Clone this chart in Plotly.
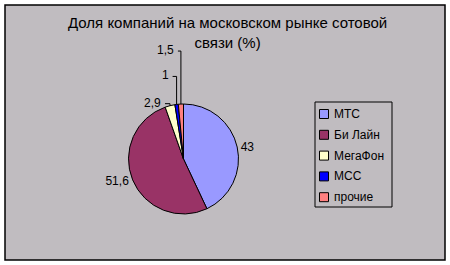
import math
import plotly.graph_objects as go

labels = ["МТС", "Би Лайн", "МегаФон", "МСС", "прочие"]
values = [43, 51.6, 2.9, 1, 1.5]
text_labels = ["43", "51,6", "2,9", "1", "1,5"]
colors = ["#9999FF", "#993366", "#FFFFCC", "#0000FF", "#FF8080"]
title_text = "Доля компаний на московском рынке сотовой<br>связи (%)"

W, H = 450, 265
bg = "#C0BCC0"
FONT = "Liberation Sans, Arial"

# pie placement (pixels) and leader-line styling for the small slices
cx, cy, r = 183.5, 159, 55
leader_rise = {2: 0, 3: 26, 4: 51}   # how far each small label is lifted above its slice
leader_tick = {2: 5, 3: 4, 4: 3}

def px(x):
    return x / W

def py(y):
    return 1 - y / H

native_text = [t if i not in leader_rise else "" for i, t in enumerate(text_labels)]

fig = go.Figure()
fig.add_trace(go.Pie(
    labels=labels, values=values, text=native_text,
    textinfo="text", textposition="outside",
    sort=False, direction="clockwise", rotation=0,
    marker=dict(colors=colors, line=dict(color="black", width=1)),
    textfont=dict(family=FONT, size=12, color="black"),
    domain=dict(x=[px(cx - r), px(cx + r)], y=[py(cy + r), py(cy - r)]),
    hoverinfo="label+value",
    showlegend=False,
))

shapes = [dict(type="rect", xref="paper", yref="paper", layer="below",
               x0=px(5), x1=px(445), y0=py(260), y1=py(5),
               fillcolor=bg, line=dict(color="black", width=1.5))]
annotations = [dict(text=title_text, xref="paper", yref="paper",
                    x=px(227), y=py(12), xanchor="center", yanchor="top",
                    showarrow=False, align="center",
                    font=dict(family=FONT, size=15, color="black"))]

# labels with leader lines for the small slices, positioned from the slice angles
total = sum(values)
cum = 0.0
for i, v in enumerate(values):
    mid = (cum + v / 2) / total * 2 * math.pi
    cum += v
    if i not in leader_rise:
        continue
    ax = cx + r * math.sin(mid)
    ay = cy - r * math.cos(mid)
    rise = leader_rise[i]
    tick = leader_tick[i]
    ty = ay - 2 - rise
    path = f"M {px(ax)} {py(ay)} L {px(ax)} {py(ty)} L {px(ax - tick)} {py(ty)}"
    shapes.append(dict(type="path", xref="paper", yref="paper", path=path,
                       line=dict(color="black", width=1)))
    annotations.append(dict(text=text_labels[i], xref="paper", yref="paper",
                            x=px(ax - tick - 1.5), y=py(ty - 1), xanchor="right", yanchor="middle",
                            showarrow=False,
                            font=dict(family=FONT, size=12, color="black")))

# custom legend box
lx0, ly0, lx1, ly1 = 315, 102, 392, 207
shapes.append(dict(type="rect", xref="paper", yref="paper",
                   x0=px(lx0), x1=px(lx1), y0=py(ly1), y1=py(ly0),
                   fillcolor=bg, line=dict(color="black", width=1)))
step = 20.8
for i, (lab, col) in enumerate(zip(labels, colors)):
    yc = 114 + i * step
    shapes.append(dict(type="rect", xref="paper", yref="paper",
                       x0=px(319.5), x1=px(328.5), y0=py(yc + 4.5), y1=py(yc - 4.5),
                       fillcolor=col, line=dict(color="black", width=1)))
    annotations.append(dict(text=lab, xref="paper", yref="paper",
                            x=px(332), y=py(yc), xanchor="left", yanchor="middle",
                            showarrow=False,
                            font=dict(family=FONT, size=12, color="black")))

fig.update_layout(
    width=W, height=H,
    margin=dict(l=0, r=0, t=0, b=0),
    paper_bgcolor="white",
    font=dict(family=FONT, size=12, color="black"),
    shapes=shapes,
    annotations=annotations,
)

fig.write_html("out.html")
